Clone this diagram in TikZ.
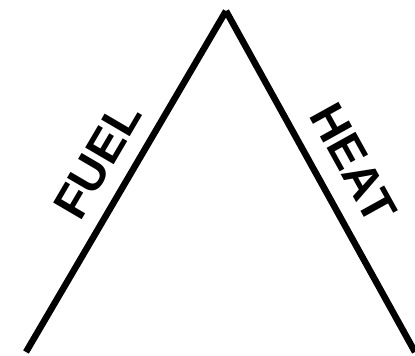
\documentclass[tikz,border=0pt]{standalone}
\usepackage{fontspec}
\setmainfont{Liberation Sans}
\usepackage{tikz}
\usetikzlibrary{positioning}

\begin{document}
\begin{tikzpicture}[
    x=1pt, y=1pt,
    side/.style={line width=6.5pt, line join=round},
    label/.style={sloped, inner sep=0pt, font=\bfseries\fontsize{48}{48}\selectfont}
]
\useasboundingbox (0,0) rectangle (415,356);
\coordinate (apex) at (226,345);
\coordinate (leftfoot) at (26,4);
\coordinate (rightfoot) at (415,4);

\draw[side] (leftfoot) -- (apex)
    node[label, pos=0.51, above=15pt] (fuel) {FUEL};
\draw[side] (apex) -- (rightfoot)
    node[label, pos=0.5, above=18pt] (heat) {HEAT};
\end{tikzpicture}
\end{document}
